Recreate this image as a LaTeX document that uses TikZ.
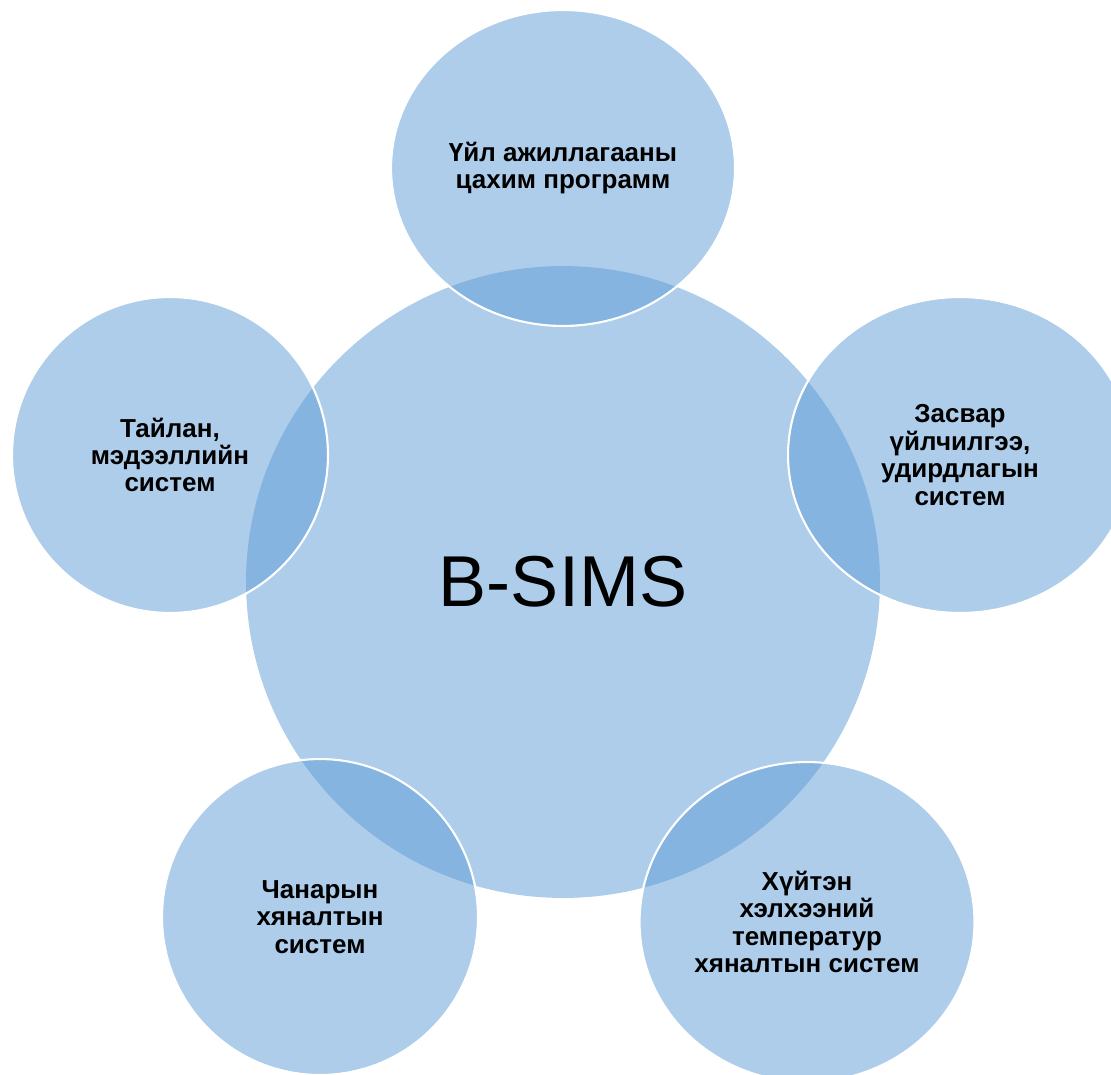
\documentclass[tikz,border=0pt]{standalone}
\usepackage{fontspec}
\setmainfont{Liberation Sans}
\usepackage{tikz}
\usetikzlibrary{shapes.geometric, positioning}
\definecolor{OfficeBlue}{HTML}{5B9BD5}

\begin{document}
\begin{tikzpicture}[x=0.02cm, y=-0.02cm,
    hub/.style={ellipse, fill=OfficeBlue, fill opacity=0.5, text opacity=1,
                minimum width=12.68cm, minimum height=12.64cm, inner sep=0pt,
                font=\fontsize{41}{48}\selectfont},
    part/.style={ellipse, fill=OfficeBlue, fill opacity=0.5, text opacity=1,
                 draw=white, draw opacity=1, line width=1.2pt,
                 minimum width=6.32cm, minimum height=6.32cm, inner sep=0pt,
                 align=center, font=\fontsize{14.8}{15.6}\selectfont\bfseries}]
    \useasboundingbox (0,0) rectangle (1111,1074);

    \node[hub] (bsims) at (563,582) {B-SIMS};

    \node[part, minimum width=6.88cm] (program) at (563,168)
        {Үйл ажиллагааны\\цахим программ};
    \node[part, minimum width=6.88cm] (repair) at (960,455)
        {Засвар\\үйлчилгээ,\\удирдлагын\\систем};
    \node[part, minimum width=6.7cm, minimum height=6.4cm] (cold) at (807,922)
        {Хүйтэн\\хэлхээний\\температур\\хяналтын систем};
    \node[part] (quality) at (320,917)
        {Чанарын\\хяналтын\\систем};
    \node[part] (report) at (170,455)
        {Тайлан,\\мэдээллийн\\систем};
\end{tikzpicture}
\end{document}
